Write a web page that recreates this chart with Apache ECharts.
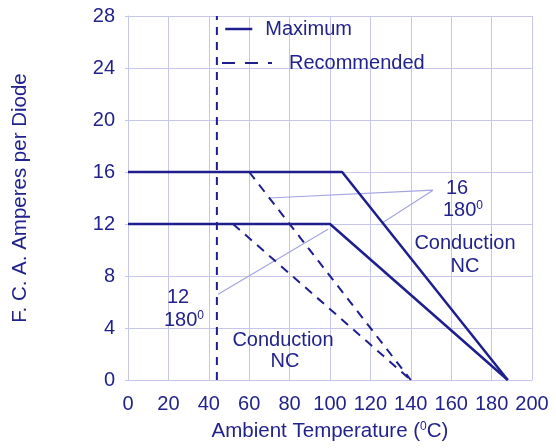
<!DOCTYPE html>
<html><head><meta charset="utf-8">
<script src="https://cdn.jsdelivr.net/npm/echarts@6/dist/echarts.min.js"></script>
<style>html,body{margin:0;padding:0;background:#fff}#c{width:556px;height:448px}</style>
</head><body><div id="c"></div>
<script>
// Data (Ambient temperature °C, amperes per diode)
const xTicks = [0, 20, 40, 60, 80, 100, 120, 140, 160, 180, 200];
const yTicks = [0, 4, 8, 12, 16, 20, 24, 28];
const max16 = [[0, 16], [106, 16], [188, 0]];
const max12 = [[0, 12], [100, 12], [188, 0]];
const rec16 = [[60, 16], [140, 0]];
const rec12 = [[52, 12], [140, 0]];
const recLimit = [[44, 0], [44, 28]];
const pointer16 = [[70, 14], [151, 14.6], [126, 12.1]];
const pointer12 = [[44.6, 6.6], [99, 11.6]];

const NAVY = '#22228c';
const LINE = '#1e1e8e';
const GRID = '#c6c6ec';
const FONT = 'Liberation Sans';

const chart = echarts.init(document.getElementById('c'), null, {renderer: 'canvas'});
const supRich = {
  sup: {fontSize: 12, fontFamily: FONT, color: NAVY, verticalAlign: 'top', lineHeight: 14, padding: [0, 0, 6, 0]}
};
function txt(x, y, text, align) {
  return {type: 'text', x: x, y: y, z: 100,
    style: {text: text, fill: NAVY, font: '20px "Liberation Sans"', align: align || 'center', verticalAlign: 'middle',
      rich: {sup: {fontSize: 12, fontFamily: FONT, fill: NAVY, padding: [0, 0, 8, 0]}}}};
}
const option = {
  animation: false,
  backgroundColor: '#fff',
  grid: {left: 128, right: 24, top: 16, bottom: 68},
  xAxis: {
    type: 'value', min: 0, max: 200, interval: 20,
    name: 'Ambient Temperature ({sup|0}C)', nameLocation: 'middle', nameGap: 41,
    nameTextStyle: {color: NAVY, fontSize: 20.5, fontFamily: FONT, rich: supRich},
    axisLine: {show: true, lineStyle: {color: GRID, width: 1}},
    axisTick: {show: true, inside: true, length: 4, lineStyle: {color: GRID}},
    axisLabel: {color: NAVY, fontSize: 20, fontFamily: FONT, margin: 14},
    splitLine: {show: true, lineStyle: {color: GRID, width: 1}}
  },
  yAxis: {
    type: 'value', min: 0, max: 28, interval: 4,
    name: 'F. C. A. Amperes per Diode', nameLocation: 'middle', nameGap: 97,
    nameTextStyle: {color: NAVY, fontSize: 20.5, fontFamily: FONT},
    axisLine: {show: true, lineStyle: {color: GRID, width: 1}},
    axisTick: {show: true, inside: false, length: 3, lineStyle: {color: GRID}},
    axisLabel: {color: NAVY, fontSize: 20, fontFamily: FONT, margin: 13},
    splitLine: {show: true, lineStyle: {color: GRID, width: 1}}
  },
  legend: [
    {data: ['Maximum'], orient: 'vertical', left: 224, top: 19, padding: 0, itemWidth: 27, itemHeight: 20,
      itemStyle: {opacity: 0}, lineStyle: {width: 2.5, color: LINE},
      textStyle: {color: NAVY, fontSize: 20, fontFamily: FONT, padding: [0, 0, 0, 8]}, selectedMode: false},
    {data: ['Recommended'], orient: 'vertical', left: 221, top: 53, padding: 0, itemWidth: 50, itemHeight: 20,
      itemStyle: {opacity: 0}, lineStyle: {width: 2, color: LINE, type: [13, 10]},
      textStyle: {color: NAVY, fontSize: 20, fontFamily: FONT, padding: [0, 0, 0, 12]}, selectedMode: false}
  ],
  series: [
    {name: 'Maximum', type: 'line', data: max16, symbol: 'none', lineStyle: {color: LINE, width: 2.5}, itemStyle: {color: LINE, opacity: 0}, z: 5},
    {name: 'Maximum', type: 'line', data: max12, symbol: 'none', lineStyle: {color: LINE, width: 2.5}, itemStyle: {color: LINE, opacity: 0}, z: 5},
    {name: 'Recommended', type: 'line', data: rec16, symbol: 'none', lineStyle: {color: LINE, width: 2, type: [9, 7]}, itemStyle: {color: LINE, opacity: 0}, z: 4},
    {name: 'Recommended', type: 'line', data: rec12, symbol: 'none', lineStyle: {color: LINE, width: 2, type: [9, 7]}, itemStyle: {color: LINE, opacity: 0}, z: 4},
    {name: 'Recommended', type: 'line', data: recLimit, symbol: 'none', lineStyle: {color: LINE, width: 2, type: [8, 7]}, itemStyle: {color: LINE, opacity: 0}, z: 4},
    {name: 'p16', type: 'line', data: pointer16, symbol: 'none', lineStyle: {color: '#a4a4e4', width: 1.2}, z: 3, silent: true},
    {name: 'p12', type: 'line', data: pointer12, symbol: 'none', lineStyle: {color: '#a4a4e4', width: 1.2}, z: 3, silent: true}
  ],
  graphic: [
    txt(457, 188, '16'),
    txt(463, 210, '180{sup|0}'),
    txt(465, 243, 'Conduction'),
    txt(465, 266, 'NC'),
    txt(178, 297, '12'),
    txt(184, 320, '180{sup|0}'),
    txt(283, 340, 'Conduction'),
    txt(285, 361, 'NC')
  ]
};
chart.setOption(option);
</script></body></html>
